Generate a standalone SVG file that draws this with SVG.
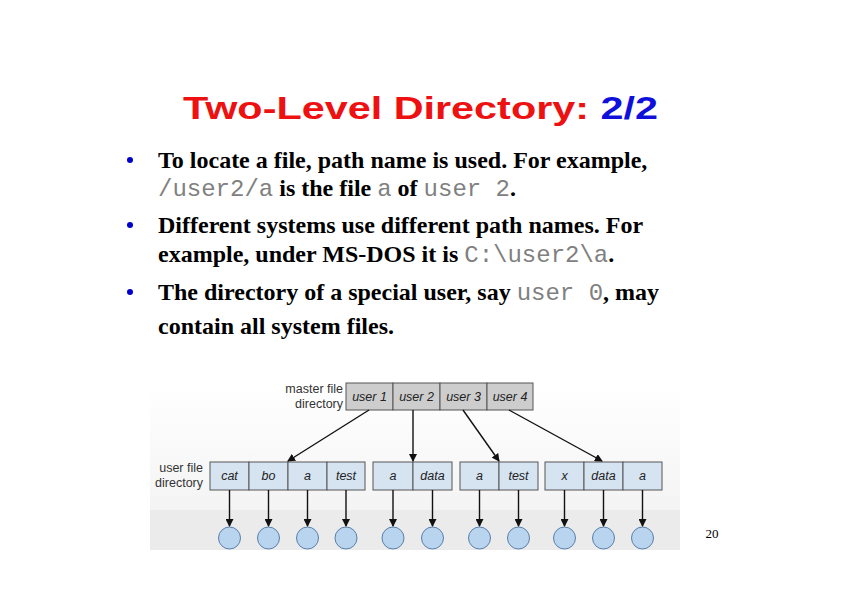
<svg xmlns="http://www.w3.org/2000/svg" width="842" height="595" viewBox="0 0 842 595">
<style>
.b{font-family:"Liberation Serif",serif;font-size:24px;font-weight:bold;fill:#000}
.m{font-family:"Liberation Mono",monospace;font-weight:normal;fill:#808080}
.bul{fill:#0000cc}
.cell{fill:#cdcdcd;stroke:#555;stroke-width:1}
.uc{fill:#d6e4f2;stroke:#555;stroke-width:1}
.ct{font-family:"Liberation Sans",sans-serif;font-size:12.5px;font-style:italic;fill:#222;text-anchor:middle}
.lb{font-family:"Liberation Sans",sans-serif;font-size:12.5px;fill:#333}
.circ{fill:#b8d4ee;stroke:#5a7fa8;stroke-width:1}
.ar{stroke:#111;stroke-width:1.4;fill:none;marker-end:url(#ah)}
</style>
<defs>
<marker id="ah" markerWidth="8" markerHeight="8" refX="7" refY="4" orient="auto" markerUnits="userSpaceOnUse"><path d="M0,0 L8,4 L0,8 z" fill="#111"/></marker>
<linearGradient id="bg" x1="0" y1="0" x2="0" y2="1"><stop offset="0" stop-color="#ffffff"/><stop offset="1" stop-color="#f0f0f0"/></linearGradient>
</defs>
<rect width="842" height="595" fill="#fff"/>
<text x="183" y="119" textLength="475" lengthAdjust="spacingAndGlyphs" font-family="Liberation Sans,sans-serif" font-weight="bold" font-size="32" fill="#ee1111">Two-Level Directory: <tspan fill="#1010dd">2/2</tspan></text>
<g id="bullets">
<circle class="bul" cx="130" cy="160" r="3"/>
<circle class="bul" cx="130" cy="225" r="3"/>
<circle class="bul" cx="130" cy="292" r="3"/>
<text class="b" x="158" y="168">To locate a file, path name is used. For example,</text>
<text class="b" x="158" y="196"><tspan class="m">/user2/a</tspan> is the file <tspan class="m">a</tspan> of <tspan class="m">user 2</tspan>.</text>
<text class="b" x="158" y="233">Different systems use different path names. For</text>
<text class="b" x="158" y="262">example, under MS-DOS it is <tspan class="m">C:\user2\a</tspan>.</text>
<text class="b" x="158" y="300">The directory of a special user, say <tspan class="m">user 0</tspan>, may</text>
<text class="b" x="158" y="334">contain all system files.</text>
</g>
<rect x="150" y="385" width="530" height="165" fill="url(#bg)"/>
<rect x="150" y="510" width="530" height="40" fill="#ebebeb"/>
<g id="labels">
<text class="lb" x="343" y="393" text-anchor="end">master file</text>
<text class="lb" x="343" y="408" text-anchor="end">directory</text>
<text class="lb" x="203" y="472" text-anchor="end">user file</text>
<text class="lb" x="203" y="487" text-anchor="end">directory</text>
</g>
<g id="master">
<rect class="cell" x="346" y="383" width="47" height="27"/><text class="ct" x="369.5" y="401">user 1</text>
<rect class="cell" x="393" y="383" width="47" height="27"/><text class="ct" x="416.5" y="401">user 2</text>
<rect class="cell" x="440" y="383" width="47" height="27"/><text class="ct" x="463.5" y="401">user 3</text>
<rect class="cell" x="487" y="383" width="46" height="27"/><text class="ct" x="510" y="401">user 4</text>
</g>
<g id="ufd">
<rect class="uc" x="210" y="462" width="39" height="28"/><text class="ct" x="229.5" y="480">cat</text>
<rect class="uc" x="249" y="462" width="39" height="28"/><text class="ct" x="268.5" y="480">bo</text>
<rect class="uc" x="288" y="462" width="39" height="28"/><text class="ct" x="307.5" y="480">a</text>
<rect class="uc" x="327" y="462" width="38" height="28"/><text class="ct" x="346" y="480">test</text>
<rect class="uc" x="373" y="462" width="40" height="28"/><text class="ct" x="393" y="480">a</text>
<rect class="uc" x="413" y="462" width="39" height="28"/><text class="ct" x="432.5" y="480">data</text>
<rect class="uc" x="460" y="462" width="39" height="28"/><text class="ct" x="479.5" y="480">a</text>
<rect class="uc" x="499" y="462" width="39" height="28"/><text class="ct" x="518.5" y="480">test</text>
<rect class="uc" x="545" y="462" width="39" height="28"/><text class="ct" x="564.5" y="480">x</text>
<rect class="uc" x="584" y="462" width="39" height="28"/><text class="ct" x="603.5" y="480">data</text>
<rect class="uc" x="623" y="462" width="39" height="28"/><text class="ct" x="642.5" y="480">a</text>
</g>
<g id="files">
<circle class="circ" cx="229.5" cy="538" r="11"/><circle class="circ" cx="268.5" cy="538" r="11"/>
<circle class="circ" cx="307.5" cy="538" r="11"/><circle class="circ" cx="346" cy="538" r="11"/>
<circle class="circ" cx="393" cy="538" r="11"/><circle class="circ" cx="432.5" cy="538" r="11"/>
<circle class="circ" cx="479.5" cy="538" r="11"/><circle class="circ" cx="518.5" cy="538" r="11"/>
<circle class="circ" cx="564.5" cy="538" r="11"/><circle class="circ" cx="603.5" cy="538" r="11"/>
<circle class="circ" cx="642.5" cy="538" r="11"/>
</g>
<g id="connectors">
<line class="ar" x1="369" y1="410" x2="288" y2="461"/>
<line class="ar" x1="413" y1="410" x2="413" y2="461"/>
<line class="ar" x1="463" y1="410" x2="499" y2="461"/>
<line class="ar" x1="509" y1="410" x2="602" y2="461"/>
<line class="ar" x1="229.5" y1="490" x2="229.5" y2="526"/><line class="ar" x1="268.5" y1="490" x2="268.5" y2="526"/>
<line class="ar" x1="307.5" y1="490" x2="307.5" y2="526"/><line class="ar" x1="346" y1="490" x2="346" y2="526"/>
<line class="ar" x1="393" y1="490" x2="393" y2="526"/><line class="ar" x1="432.5" y1="490" x2="432.5" y2="526"/>
<line class="ar" x1="479.5" y1="490" x2="479.5" y2="526"/><line class="ar" x1="518.5" y1="490" x2="518.5" y2="526"/>
<line class="ar" x1="564.5" y1="490" x2="564.5" y2="526"/><line class="ar" x1="603.5" y1="490" x2="603.5" y2="526"/>
<line class="ar" x1="642.5" y1="490" x2="642.5" y2="526"/>
</g>
<text x="712" y="538" text-anchor="middle" font-family="Liberation Serif,serif" font-size="13" fill="#000">20</text>
</svg>
